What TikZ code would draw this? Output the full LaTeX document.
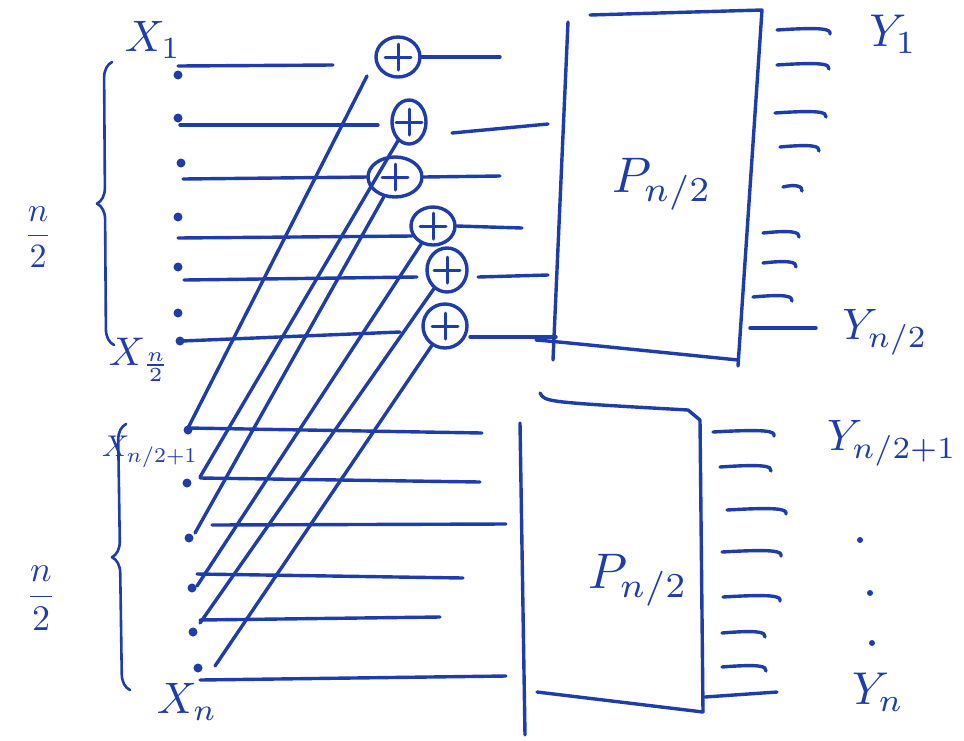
\documentclass[tikz,border=0pt]{standalone}
\usetikzlibrary{shapes.geometric,decorations.pathreplacing}
\definecolor{ink}{RGB}{30,60,170}
\begin{document}
\begin{tikzpicture}[x=1pt,y=-1pt, line cap=round, line join=round,
  pen/.style={draw=ink, line width=3.4pt},
  lbl/.style={text=ink, inner sep=0pt},
  adder/.style={ellipse, draw=ink, line width=3.4pt, inner sep=0pt,
    path picture={\draw[ink,line width=3pt]
      ([xshift=-13pt]path picture bounding box.center) -- ([xshift=13pt]path picture bounding box.center)
      ([yshift=-13pt]path picture bounding box.center) -- ([yshift=13pt]path picture bounding box.center);}},
  dotm/.style={circle, fill=ink, inner sep=0pt, minimum size=9pt},
  brc/.style={pen, line width=2.6pt, decorate, decoration={brace, amplitude=16pt}},
]
\useasboundingbox (0,0) rectangle (964,740);

% ---------- top input dots ----------
\node[dotm] (d1) at (178,75) {};
\node[dotm] (d2) at (178,118) {};
\node[dotm] (d3) at (181,163) {};
\node[dotm] (d4) at (178,217) {};
\node[dotm] (d5) at (178,267) {};
\node[dotm] (d6) at (178,313) {};
\node[dotm] (d7) at (180,341) {};

% ---------- adders ----------
\node[adder, minimum width=44pt, minimum height=40pt] (c1) at (398,57) {};
\node[adder, minimum width=34pt, minimum height=44pt] (c2) at (409,122) {};
\node[adder, minimum width=54pt, minimum height=40pt] (c3) at (395,177) {};
\node[adder, minimum width=44pt, minimum height=38pt] (c4) at (433,226) {};
\node[adder, minimum width=40pt, minimum height=44pt] (c5) at (447,270) {};
\node[adder, minimum width=44pt, minimum height=44pt] (c6) at (445,326) {};

% ---------- top input lines ----------
\coordinate (s1) at (178,66);  \coordinate (e1) at (333,65);
\coordinate (s2) at (180,125); \coordinate (e2) at (378,125);
\coordinate (s3) at (183,179); \coordinate (e3) at (368,177);
\coordinate (s4) at (178,238); \coordinate (e4) at (412,236);
\coordinate (s5) at (184,280); \coordinate (e5) at (417,277);
\coordinate (s6) at (182,341); \coordinate (e6) at (400,332);
\draw[pen] (s1) -- (e1);
\draw[pen] (s2) -- (e2);
\draw[pen] (s3) -- (e3);
\draw[pen] (s4) -- (e4);
\draw[pen] (s5) -- (e5);
\draw[pen] (s6) -- (e6);

% ---------- bottom input dots ----------
\node[dotm] (b1) at (188,430) {};
\node[dotm] (b2) at (187,483) {};
\node[dotm] (b3) at (189,538) {};
\node[dotm] (b4) at (192,588) {};
\node[dotm] (b5) at (193,632) {};
\node[dotm] (b6) at (198,668) {};

% ---------- bottom input lines ----------
\coordinate (u1) at (188,428); \coordinate (v1) at (482,433);
\coordinate (u2) at (200,478); \coordinate (v2) at (480,482);
\coordinate (u3) at (212,525); \coordinate (v3) at (506,524);
\coordinate (u4) at (197,574); \coordinate (v4) at (463,578);
\coordinate (u5) at (200,620); \coordinate (v5) at (440,617);
\coordinate (u6) at (200,680); \coordinate (v6) at (506,676);
\draw[pen] (u1) -- (v1);
\draw[pen] (u2) -- (v2);
\draw[pen] (u3) -- (v3);
\draw[pen] (u4) -- (v4);
\draw[pen] (u5) -- (v5);
\draw[pen] (u6) -- (v6);

% ---------- diagonals ----------
\coordinate (g1) at (188,428);
\coordinate (g2) at (200,477);
\coordinate (g3) at (195,533);
\coordinate (g4) at (197,586);
\coordinate (g5) at (200,623);
\coordinate (g6) at (215,666);
\coordinate (h1) at (367,76);
\draw[pen] (g1) -- (h1);
\draw[pen] (g2) -- (c2);
\draw[pen] (g3) -- (c3);
\draw[pen] (g4) -- (c4);
\draw[pen] (g5) -- (c5);
\draw[pen] (g6) -- (c6);

% ---------- adder outputs ----------
\coordinate (o1) at (500,57);
\coordinate (p2) at (452,133); \coordinate (o2) at (548,124);
\coordinate (o3) at (500,176);
\coordinate (o4) at (522,228);
\coordinate (p5) at (478,277); \coordinate (o5) at (548,275);
\coordinate (p6) at (470,337); \coordinate (o6) at (556,337);
\draw[pen] (c1.east) -- (o1);
\draw[pen] (p2) -- (o2);
\draw[pen] (c3.east) -- (o3);
\draw[pen] (c4.east) -- (o4);
\draw[pen] (p5) -- (o5);
\draw[pen] (p6) -- (o6);

% ---------- top box P_{n/2} ----------
\coordinate (ta) at (568,22);  \coordinate (tb) at (553,360);
\coordinate (tc) at (590,15);  \coordinate (td) at (762,10);
\coordinate (te) at (738,366); \coordinate (tf) at (536,340);
\draw[pen] (ta) -- (tb);
\draw[pen] (tc) -- (td) -- (te);
\draw[pen] (tf) .. controls (560,342) .. (738,360);
\node[lbl, scale=5.0] (P1) at (662,184) {$P_{n/2}$};

% top outputs
\foreach \y/\a/\b in {30/777/831, 65/777/830, 113/775/827, 147/780/820, 187/783/803, 233/763/800, 263/763/797, 297/753/793}{
  \draw[pen] (\a,\y) .. controls (\b-8,\y-3) and (\b,\y-1) .. (\b-1,\y+4);
}
\draw[pen] (750,328) -- (816,328);

\node[lbl, scale=4.6] (Y1) at (893,34) {$Y_1$};
\node[lbl, scale=4.4] (Yh) at (885,332) {$Y_{n/2}$};

% ---------- bottom box P_{n/2} ----------
\coordinate (ba) at (520,423); \coordinate (bb) at (525,735);
\coordinate (bc) at (540,393); \coordinate (bd) at (688,410);
\coordinate (be) at (700,420); \coordinate (bf) at (703,712);
\coordinate (bg) at (537,692);
\draw[pen] (ba) -- (bb);
\draw[pen] (bc) .. controls (545,402) .. (bd) -- (be) -- (bf);
\draw[pen] (bg) -- (bf);
\node[lbl, scale=5.0] (P2) at (638,580) {$P_{n/2}$};

% bottom outputs
\foreach \y/\a/\b in {432/713/775, 467/720/772, 510/727/787, 552/722/782, 597/723/781, 633/722/766, 667/722/767}{
  \draw[pen] (\a,\y) .. controls (\b-8,\y-3) and (\b,\y-1) .. (\b-1,\y+4);
}
\draw[pen] (705,697) -- (777,692);

\node[lbl, scale=4.4] (Yh1) at (892,443) {$Y_{n/2+1}$};
\node[dotm, minimum size=6pt] (y1) at (860,540) {};
\node[dotm, minimum size=6pt] (y2) at (870,593) {};
\node[dotm, minimum size=6pt] (y3) at (872,643) {};
\node[lbl, scale=4.6] (Yn) at (878,692) {$Y_n$};

% ---------- left labels ----------
\node[lbl, scale=4.4] (X1) at (153,40) {$X_1$};
\node[lbl, scale=4.0] (Xh) at (140,360) {$X_{\frac{n}{2}}$};
\node[lbl, scale=3.0] (Xh1) at (150,452) {$X_{n/2+1}$};
\node[lbl, scale=4.4] (Xn) at (187,702) {$X_n$};

\coordinate (br1) at (114,345); \coordinate (br2) at (112,62);
\draw[brc] (br1) -- (br2);
\coordinate (br3) at (130,690); \coordinate (br4) at (126,424);
\draw[brc] (br3) -- (br4);

\node[lbl, scale=3.4] (f1) at (38,237) {$\displaystyle\frac{n}{2}$};
\node[lbl, scale=3.6] (f2) at (41,598) {$\displaystyle\frac{n}{2}$};
\end{tikzpicture}
\end{document}
